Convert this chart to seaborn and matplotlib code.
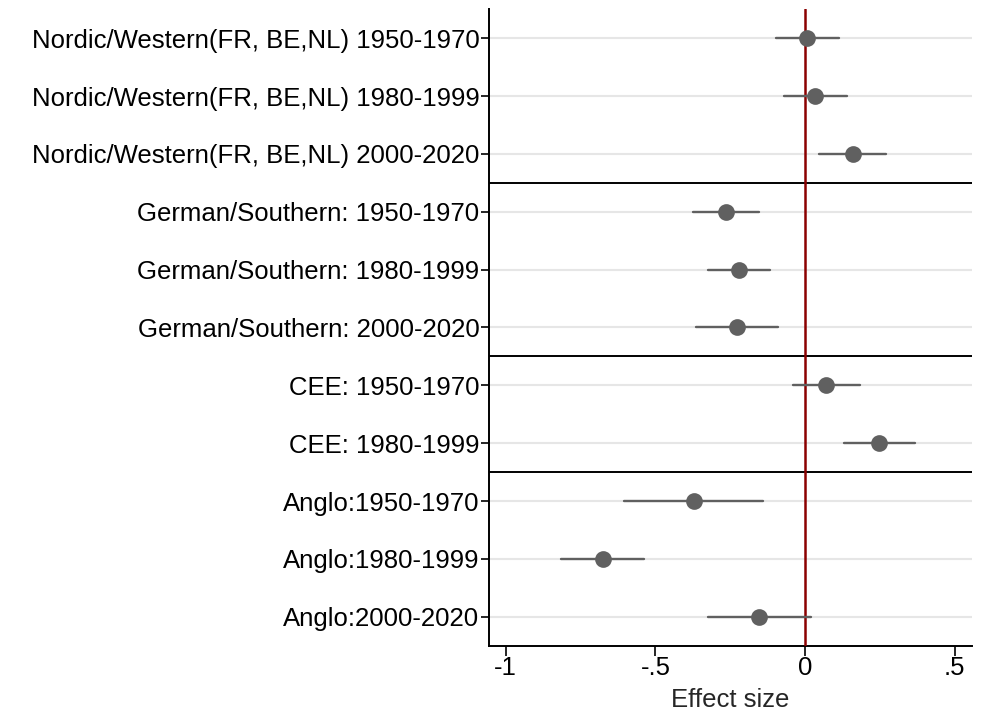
import matplotlib
matplotlib.use("Agg")
import matplotlib.pyplot as plt
import seaborn as sns
import pandas as pd

labels = [
    "Nordic/Western(FR, BE,NL) 1950-1970",
    "Nordic/Western(FR, BE,NL) 1980-1999",
    "Nordic/Western(FR, BE,NL) 2000-2020",
    "German/Southern: 1950-1970",
    "German/Southern: 1980-1999",
    "German/Southern: 2000-2020",
    "CEE: 1950-1970",
    "CEE: 1980-1999",
    "Anglo:1950-1970",
    "Anglo:1980-1999",
    "Anglo:2000-2020",
]
estimates = [0.008, 0.033, 0.159, -0.264, -0.222, -0.228, 0.072, 0.249, -0.372, -0.676, -0.153]
ci_low = [-0.097, -0.070, 0.048, -0.374, -0.324, -0.363, -0.040, 0.130, -0.605, -0.815, -0.325]
ci_high = [0.114, 0.139, 0.272, -0.154, -0.117, -0.091, 0.183, 0.368, -0.141, -0.538, 0.021]
separators = [2.5, 5.5, 7.5]
xticks = [-1, -0.5, 0, 0.5]
xticklabels = ["-1", "-.5", "0", ".5"]

rows = []
for lab, e, lo, hi in zip(labels, estimates, ci_low, ci_high):
    for v in (lo, e, hi):
        rows.append({"label": lab, "value": v})
df = pd.DataFrame(rows)

sns.set_style("white")
plt.rcParams["font.family"] = ["Liberation Sans", "DejaVu Sans"]

fig = plt.figure(figsize=(9.83, 7.13), dpi=100)
ax = fig.add_axes([0.4975, 0.0944, 0.989 - 0.4975, 0.987 - 0.0944])

sns.pointplot(
    data=df, x="value", y="label", order=labels,
    estimator="median", errorbar=("pi", 100),
    linestyle="none", color="#606060", markersize=10,
    err_kws={"linewidth": 1.7, "color": "#606060"},
    ax=ax, zorder=4,
)

ax.set_ylim(len(labels) - 0.5, -0.5)
ax.set_xlim(-1.056, 0.559)
ax.set_xticks(xticks)
ax.set_xticklabels(xticklabels)

for i in range(len(labels)):
    ax.axhline(i, color="#e6e6e6", lw=1.5, zorder=0)
for s in separators:
    ax.axhline(s, color="black", lw=1.4, zorder=2)
ax.axvline(0, color="#8b0000", lw=1.8, zorder=3)

for side in ("top", "right"):
    ax.spines[side].set_visible(False)
for side in ("left", "bottom"):
    ax.spines[side].set_color("black")
    ax.spines[side].set_linewidth(1.4)

ax.tick_params(axis="both", which="both", direction="out", width=1.2,
               color="black", labelsize=18.5, labelcolor="black",
               left=True, bottom=True)
ax.tick_params(axis="y", length=6, pad=1)
ax.tick_params(axis="x", length=7, pad=0.5)
ax.set_ylabel("")
ax.set_xlabel("Effect size", fontsize=18.5, labelpad=5.5)
ax.grid(False)

fig.savefig("out.png", dpi=100)
